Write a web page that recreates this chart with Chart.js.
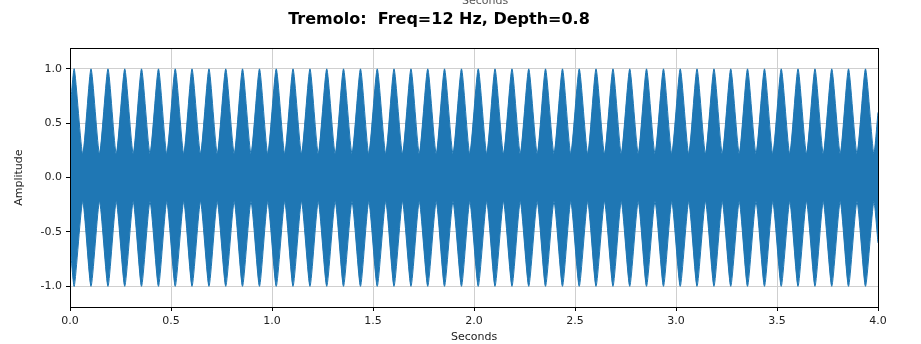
<!DOCTYPE html>
<html>
<head>
<meta charset="utf-8">
<script src="https://cdn.jsdelivr.net/npm/chart.js@4/dist/chart.umd.min.js"></script>
<style>
  html, body { margin: 0; padding: 0; background: #fff; }
  #wrap { width: 921px; height: 344px; position: relative; }
</style>
</head>
<body>
<div id="wrap"><canvas id="chart"></canvas></div>
<script>
// envelope of the tremolo signal (seconds / amplitude)
const peakTimes = [
  0.021, 0.104, 0.188, 0.271, 0.354, 0.438, 0.521, 0.604, 0.688, 0.771, 0.854, 0.938,
  1.021, 1.104, 1.188, 1.271, 1.354, 1.438, 1.521, 1.604, 1.688, 1.771, 1.854, 1.938,
  2.021, 2.104, 2.188, 2.271, 2.354, 2.438, 2.521, 2.604, 2.688, 2.771, 2.854, 2.938,
  3.021, 3.104, 3.188, 3.271, 3.354, 3.438, 3.521, 3.604, 3.688, 3.771, 3.854, 3.938,
];
const troughTimes = [
  0.063, 0.146, 0.229, 0.313, 0.396, 0.479, 0.563, 0.646, 0.729, 0.813, 0.896, 0.979,
  1.063, 1.146, 1.229, 1.313, 1.396, 1.479, 1.563, 1.646, 1.729, 1.813, 1.896, 1.979,
  2.063, 2.146, 2.229, 2.313, 2.396, 2.479, 2.563, 2.646, 2.729, 2.813, 2.896, 2.979,
  3.063, 3.146, 3.229, 3.313, 3.396, 3.479, 3.563, 3.646, 3.729, 3.813, 3.896, 3.979,
];
const edgeTimes = [0.0, 4.0];
const peakAmp = 1.0;
const troughAmp = 0.22;
const edgeAmp = 0.6;

const xTicks = [0.0, 0.5, 1.0, 1.5, 2.0, 2.5, 3.0, 3.5, 4.0];
const yTicks = [-1.0, -0.5, 0.0, 0.5, 1.0];

const BLUE = "#1f77b4";

const envelope = [
  ...peakTimes.map((t) => ({ x: t, y: peakAmp })),
  ...troughTimes.map((t) => ({ x: t, y: troughAmp })),
  ...edgeTimes.map((t) => ({ x: t, y: edgeAmp })),
].sort((a, b) => a.x - b.x);

const upper = envelope.map((p) => ({ x: p.x, y: p.y }));
const lower = envelope.map((p) => ({ x: p.x, y: -p.y }));

// box around the plot plus the stray label peeking at the top
const framePlugin = {
  id: "frame",
  afterDraw(chart) {
    const { ctx, chartArea: a } = chart;
    ctx.save();
    ctx.strokeStyle = "#000";
    ctx.lineWidth = 1;
    ctx.strokeRect(Math.round(a.left) + 0.5, Math.round(a.top) + 0.5,
      Math.round(a.right - a.left), Math.round(a.bottom - a.top));
    ctx.fillStyle = "#555";
    ctx.font = "11px 'DejaVu Sans'";
    ctx.textAlign = "center";
    ctx.textBaseline = "alphabetic";
    ctx.fillText("Seconds", 485, 4);
    ctx.restore();
  },
};

const font = { family: "'DejaVu Sans'", size: 11 };

new Chart(document.getElementById("chart"), {
  type: "line",
  data: {
    datasets: [
      {
        data: upper,
        borderColor: BLUE,
        backgroundColor: BLUE,
        borderWidth: 1,
        pointRadius: 0,
        tension: 0.2,
        fill: "+1",
      },
      {
        data: lower,
        borderColor: BLUE,
        backgroundColor: BLUE,
        borderWidth: 1,
        pointRadius: 0,
        tension: 0.2,
        fill: false,
      },
    ],
  },
  options: {
    responsive: true,
    maintainAspectRatio: false,
    animation: false,
    devicePixelRatio: 1,
    layout: { padding: { left: 0, right: 43, top: 0, bottom: 0 } },
    plugins: {
      legend: { display: false },
      tooltip: { enabled: false },
      title: {
        display: true,
        text: "Tremolo:  Freq=12 Hz, Depth=0.8",
        color: "#000",
        font: { family: "'DejaVu Sans'", size: 16, weight: "bold" },
        padding: { top: 10, bottom: 19 },
      },
    },
    scales: {
      x: {
        type: "linear",
        min: 0,
        max: 4,
        afterBuildTicks: (s) => { s.ticks = xTicks.map((v) => ({ value: v })); },
        afterFit: (s) => { s.height = 37; },
        ticks: {
          color: "#222",
          font,
          padding: 4,
          maxRotation: 0,
          callback: (v) => Number(v).toFixed(1),
        },
        grid: { color: "#cfcfcf", lineWidth: 1, tickLength: 4, tickColor: "#000" },
        border: { display: true, color: "#000" },
        title: { display: true, text: "Seconds", color: "#222", font, padding: { top: 0, bottom: 0 } },
      },
      y: {
        min: -1.19,
        max: 1.19,
        afterBuildTicks: (s) => { s.ticks = yTicks.map((v) => ({ value: v })); },
        afterFit: (s) => { s.width = 70; },
        ticks: {
          color: "#222",
          font,
          padding: 4,
          callback: (v) => Number(v).toFixed(1),
        },
        grid: { color: "#cfcfcf", lineWidth: 1, tickLength: 4, tickColor: "#000" },
        border: { display: true, color: "#000" },
        title: { display: true, text: "Amplitude", color: "#222", font, padding: { top: 13, bottom: 0 } },
      },
    },
  },
  plugins: [framePlugin],
});
</script>
</body>
</html>
